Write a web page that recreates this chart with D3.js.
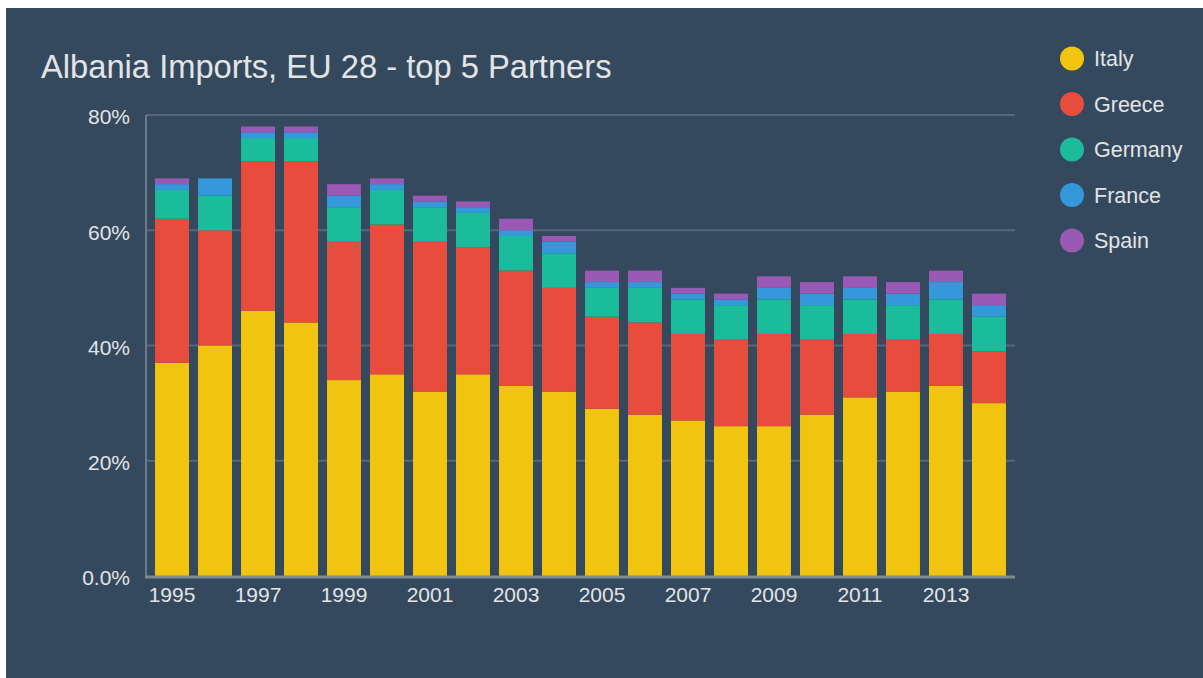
<!DOCTYPE html>
<html>
<head>
<meta charset="utf-8">
<script src="https://cdn.jsdelivr.net/npm/d3@7"></script>
<style>
  body { margin: 0; background: #ffffff; }
  svg { display: block; }
  text { font-family: "Liberation Sans", Arial, sans-serif; }
</style>
</head>
<body>
<svg id="chart" width="1203" height="678"></svg>
<script>
// data (share of imports, %)
const years = d3.range(1995, 2015).map(String);
const partners = ["Italy", "Greece", "Germany", "France", "Spain"];
const italy   = [37, 40, 46, 44, 34, 35, 32, 35, 33, 32, 29, 28, 27, 26, 26, 28, 31, 32, 33, 30];
const greece  = [25, 20, 26, 28, 24, 26, 26, 22, 20, 18, 16, 16, 15, 15, 16, 13, 11, 9, 9, 9];
const germany = [5, 6, 4, 4, 6, 6, 6, 6, 6, 6, 5, 6, 6, 6, 6, 6, 6, 6, 6, 6];
const france  = [1, 3, 1, 1, 2, 1, 1, 1, 1, 2, 1, 1, 1, 1, 2, 2, 2, 2, 3, 2];
const spain   = [1, 0, 1, 1, 2, 1, 1, 1, 2, 1, 2, 2, 1, 1, 2, 2, 2, 2, 2, 2];
const yTicks = [0, 20, 40, 60, 80];
const xTickYears = ["1995", "1997", "1999", "2001", "2003", "2005", "2007", "2009", "2011", "2013"];

const colors = ["#f1c40f", "#e74c3c", "#1abc9c", "#3498db", "#9b59b6"];
const textColor = "#e2e4e6";

// build rows for the stack
const series = [italy, greece, germany, france, spain];
const rows = years.map((y, i) => {
    let r = { year: y };
    partners.forEach((p, j) => { r[p] = series[j][i]; });
    return r;
});

const svg = d3.select("#chart");

// dark panel
svg.append("rect")
    .attr("x", 6).attr("y", 8)
    .attr("width", 1197).attr("height", 670)
    .attr("fill", "#34495e");

const plotLeft = 146, plotRight = 1015, plotTop = 115, plotBottom = 576;

const x = d3.scaleBand()
    .domain(years)
    .range([plotLeft, plotRight])
    .paddingInner(0.21)
    .paddingOuter(0.21);

const y = d3.scaleLinear()
    .domain([0, 80])
    .range([plotBottom, plotTop]);

// gridlines
svg.append("g").selectAll("line")
    .data(yTicks.filter(d => d > 0))
    .enter().append("line")
    .attr("x1", plotLeft).attr("x2", plotRight)
    .attr("y1", d => y(d)).attr("y2", d => y(d))
    .attr("stroke", "#56677a")
    .attr("stroke-width", 2);

// y labels
svg.append("g").selectAll("text")
    .data(yTicks)
    .enter().append("text")
    .attr("x", 130)
    .attr("y", d => y(d))
    .attr("dy", "0.45em")
    .attr("text-anchor", "end")
    .attr("fill", textColor)
    .style("font-size", "21px")
    .text(d => d === 0 ? "0.0%" : d + "%");

// stacked bars
const stack = d3.stack().keys(partners);
const layers = stack(rows);

svg.append("g").selectAll("g")
    .data(layers)
    .enter().append("g")
    .attr("fill", (d, i) => colors[i])
    .selectAll("rect")
    .data(d => d)
    .enter().append("rect")
    .attr("x", d => x(d.data.year))
    .attr("width", x.bandwidth())
    .attr("y", d => y(d[1]))
    .attr("height", d => y(d[0]) - y(d[1]));

// axis lines
svg.append("line")
    .attr("x1", plotLeft).attr("x2", plotLeft)
    .attr("y1", plotTop).attr("y2", plotBottom)
    .attr("stroke", "#6c7a89").attr("stroke-width", 2);
svg.append("line")
    .attr("x1", plotLeft - 1).attr("x2", plotRight)
    .attr("y1", plotBottom + 1).attr("y2", plotBottom + 1)
    .attr("stroke", "#7f8c8d").attr("stroke-width", 3);

// x labels
svg.append("g").selectAll("text")
    .data(xTickYears)
    .enter().append("text")
    .attr("x", d => x(d) + x.bandwidth() / 2)
    .attr("y", 602)
    .attr("text-anchor", "middle")
    .attr("fill", textColor)
    .style("font-size", "21px")
    .text(d => d);

// title
svg.append("text")
    .attr("x", 41).attr("y", 78)
    .attr("fill", textColor)
    .style("font-size", "32.7px")
    .text("Albania Imports, EU 28 - top 5 Partners");

// legend
const legend = svg.append("g").selectAll("g")
    .data(partners)
    .enter().append("g")
    .attr("transform", (d, i) => "translate(1072," + (58.5 + i * 45.5) + ")");
legend.append("circle")
    .attr("r", 12)
    .attr("fill", (d, i) => colors[i]);
legend.append("text")
    .attr("x", 22)
    .attr("dy", "0.35em")
    .attr("fill", textColor)
    .style("font-size", "21.5px")
    .text(d => d);
</script>
</body>
</html>
